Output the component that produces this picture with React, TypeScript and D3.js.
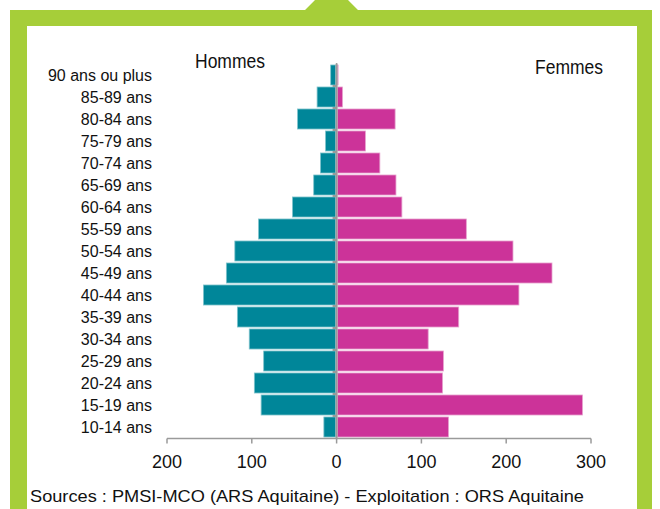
import React from "react";
import * as d3 from "d3";

const categories = [
  "90 ans ou plus", "85-89 ans", "80-84 ans", "75-79 ans", "70-74 ans",
  "65-69 ans", "60-64 ans", "55-59 ans", "50-54 ans", "45-49 ans",
  "40-44 ans", "35-39 ans", "30-34 ans", "25-29 ans", "20-24 ans",
  "15-19 ans", "10-14 ans",
];
const hommes = [7, 23, 46, 13, 19, 27, 52, 92, 120, 130, 157, 117, 103, 86, 97, 89, 15];
const femmes = [1.5, 7, 69, 34, 51, 70, 77, 153, 208, 254, 215, 144, 108, 126, 125, 290, 132];
const tickValues = [-200, -100, 0, 100, 200, 300];
const sourceText = "Sources : PMSI-MCO (ARS Aquitaine) - Exploitation : ORS Aquitaine";

const W = 660;
const H = 509;
const GREEN = "#A6CE39";
const TEAL = "#008699";
const PINK = "#CC3399";
const GRAY = "#9A9A9A";
const FONT = "'Liberation Sans', Arial, sans-serif";

export default function App() {
  const x = d3.scaleLinear().domain([-200, 300]).range([167, 591]);
  const y = d3.scaleBand<string>().domain(categories).range([64, 438]).paddingInner(0.09).paddingOuter(0.045);
  const step = y.step();
  const x0 = x(0);
  const axisY = 438.5;

  const greenPath = `M10,${H} L10,10 L305,10 L315,0 L348,0 L358,10 L652,10 L652,${H} L637,${H} L637,26 L27,26 L27,${H} Z`;

  return (
    <div style={{ position: "absolute", left: 0, top: 0 }}>
      <svg width={W} height={H} style={{ display: "block", fontFamily: FONT }}>
        <rect x={0} y={0} width={W} height={H} fill="#fff" />
        <path d={greenPath} fill={GREEN} />

        <text x={230} y={68} textAnchor="middle" fontSize={20} textLength={70} lengthAdjust="spacingAndGlyphs" fill="#111">Hommes</text>
        <text x={569} y={74} textAnchor="middle" fontSize={20} textLength={68} lengthAdjust="spacingAndGlyphs" fill="#111">Femmes</text>

        {categories.map((c, i) => {
          const yy = y(c)!;
          const bh = y.bandwidth();
          return (
            <g key={c}>
              <text x={152} y={yy + bh / 2 + 5.5} textAnchor="end" fontSize={16} fill="#111">{c}</text>
              <rect x={x(-hommes[i])} y={yy} width={x0 - x(-hommes[i]) - 1} height={bh}
                fill={TEAL} stroke="#7fc3cc" strokeWidth={0.8} />
              <rect x={x0 + 1} y={yy} width={Math.max(0.5, x(femmes[i]) - x0 - 1)} height={bh}
                fill={PINK} stroke="#e6a3cf" strokeWidth={0.8} />
            </g>
          );
        })}

        {categories.slice(1).map((c) => {
          const yy = y(c)! - (step - y.bandwidth()) / 2;
          return <line key={"t" + c} x1={x0 - 4} x2={x0} y1={yy} y2={yy} stroke={GRAY} strokeWidth={2} />;
        })}
        <line x1={x0} x2={x0} y1={64} y2={axisY} stroke={GRAY} strokeWidth={2} strokeLinecap="round" />

        <line x1={x(-200)} x2={x(300)} y1={axisY} y2={axisY} stroke={GRAY} strokeWidth={1.5} />
        {tickValues.map((t) => (
          <g key={t}>
            <line x1={x(t)} x2={x(t)} y1={axisY} y2={axisY + 5} stroke={GRAY} strokeWidth={1.5} />
            <text x={x(t)} y={468} textAnchor="middle" fontSize={18} fill="#111">{Math.abs(t)}</text>
          </g>
        ))}

        <text x={30} y={502} fontSize={17} textLength={554} lengthAdjust="spacingAndGlyphs" fill="#111">{sourceText}</text>
      </svg>
    </div>
  );
}
